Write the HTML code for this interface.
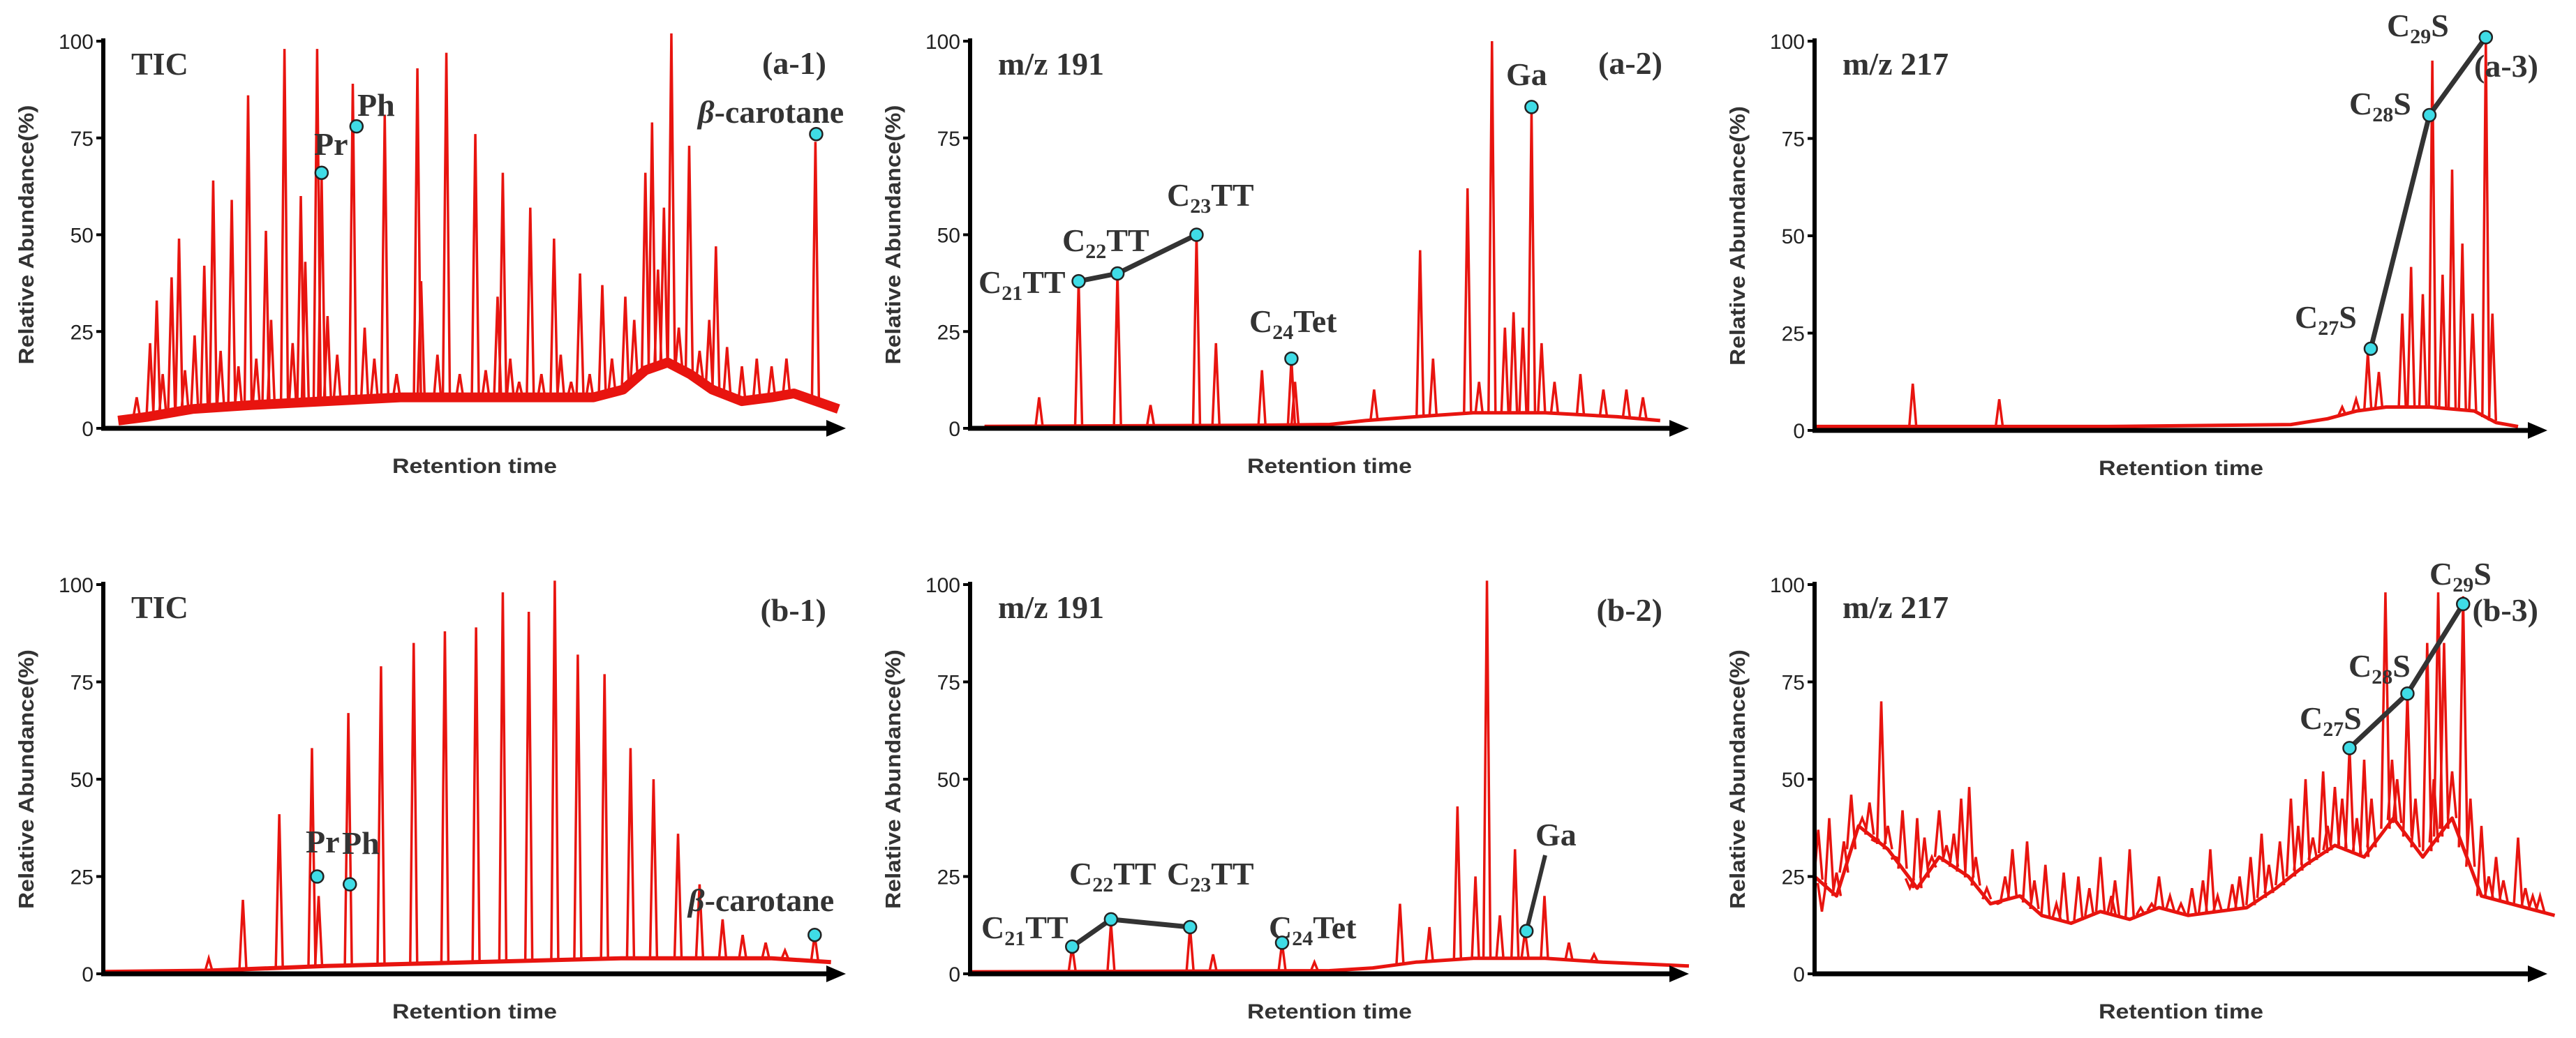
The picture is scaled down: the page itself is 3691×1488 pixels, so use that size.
<!DOCTYPE html>
<html><head><meta charset="utf-8">
<style>
html,body{margin:0;padding:0;background:#fff;}
svg{display:block;}
.tk{font-family:"Liberation Sans",sans-serif;font-size:30px;fill:#222;}
.yt{font-family:"Liberation Sans",sans-serif;font-size:31px;font-weight:bold;fill:#333;}
.xt{font-family:"Liberation Sans",sans-serif;font-size:30px;font-weight:bold;fill:#333;}
.lb{font-family:"Liberation Serif",serif;font-size:46px;font-weight:bold;fill:#333;}
.sb{font-size:30px;}
</style></head>
<body>
<svg id="fig" width="3691" height="1488" viewBox="0 0 3691 1488" xmlns="http://www.w3.org/2000/svg"></svg>
<script>
// ---- data (x in % of retention window, y in relative abundance %) ----
const yTicks = [0, 25, 50, 75, 100];
// a-1 TIC
const a1BaseX = [2, 6, 12, 20, 30, 40, 50, 60, 66, 70, 73, 76, 79, 82, 86, 90, 93, 96, 99];
const a1BaseY = [2, 3, 5, 6, 7, 8, 8, 8, 8, 10, 15, 17, 14, 10, 7, 8, 9, 7, 5];
const a1PeakX = [4.5,6.3,7.2,8.0,9.2,10.2,11.0,12.3,13.6,14.8,15.8,17.3,18.2,19.5,20.6,21.9,22.6,24.4,25.5,26.6,27.2,28.8,29.4,30.2,31.5,33.6,35.2,36.5,37.9,39.5,42.3,42.8,45.0,46.2,48.0,50.1,51.5,53.1,53.8,54.8,56.0,57.5,59.0,60.7,61.6,63.0,64.2,65.5,67.2,68.5,70.3,71.5,73.0,73.9,74.7,75.5,76.5,77.5,78.9,80.3,81.6,82.5,84.0,86.0,88.0,90.0,92.0,95.9];
const a1PeakY = [8,22,33,14,39,49,15,24,42,64,20,59,16,86,18,51,28,98,22,60,43,98,65,29,19,89,26,18,81,14,93,38,19,97,14,76,15,34,66,18,12,57,14,49,19,12,40,14,37,18,34,28,66,79,41,57,102,26,73,20,28,47,21,16,18,16,18,74];
// a-2 m/z 191
const a2BaseX = [2, 40, 50, 55, 62, 70, 80, 90, 96];
const a2BaseY = [0.5, 0.8, 1, 2, 3, 4, 4, 3, 2];
const a2PeakX = [9.6,15.1,20.5,25.1,31.5,34.2,40.6,44.7,45.2,56.2,62.6,64.4,69.2,70.8,72.6,74.4,75.6,76.9,78.1,79.5,81.3,84.9,88.1,91.3,93.6];
const a2PeakY = [8,38,40,6,50,22,15,18,12,10,46,18,62,12,100,26,30,26,82,22,12,14,10,10,8];
// a-3 m/z 217
const a3BaseX = [0, 40, 65, 70, 74, 78, 84, 90, 93, 96];
const a3BaseY = [1, 1, 1.5, 3, 5, 6, 6, 5, 2, 1];
const a3PeakX = [13.4,25.2,72.0,73.9,75.5,77.0,80.2,81.4,83.0,84.3,85.7,87.0,88.4,89.8,91.6,92.5];
const a3PeakY = [12,8,6,8,20,15,30,42,35,95,40,67,48,30,100,30];
// b-1 TIC
const b1BaseX = [0, 14, 30, 50, 70, 90, 98];
const b1BaseY = [0.5, 0.8, 2, 3, 4, 4, 3];
const b1PeakX = [14.2,18.8,23.7,28.1,29.0,33.0,37.4,41.8,46.0,50.2,53.8,57.3,60.8,63.9,67.5,71.0,74.1,77.4,80.3,83.4,86.1,89.2,91.8,95.8];
const b1PeakY = [4,19,41,58,20,67,79,85,88,89,98,93,101,82,77,58,50,36,23,14,10,8,6,10];
// b-2 m/z 191
const b2BaseX = [0, 50, 56, 62, 70, 80, 88, 100];
const b2BaseY = [0.5, 0.8, 1.5, 3, 4, 4, 3, 2];
const b2PeakX = [14.2,19.6,30.6,33.8,43.4,47.9,59.8,63.9,67.8,70.3,71.9,73.7,75.8,77.2,79.9,83.3,86.8];
const b2PeakY = [7,13,12,5,8,3,18,12,43,25,101,15,32,11,20,8,5];
// b-3 m/z 217
const b3BaseX = [0,3,6,10,14,17,21,24,28,31,35,39,43,47,51,55,59,63,67,71,75,79,83,87,91,95,101];
const b3BaseY = [25,20,38,32,22,30,25,18,20,15,13,16,14,17,15,16,17,22,28,33,30,40,30,40,20,18,15];
const b3PeakX = [0.5,1,2,3,4,5,6.5,7.5,8.3,9.1,10,11,12,13,14,15,16,17,18,19,20,21.1,22,23.5,25,26,27,28,29,30,31.5,33,34,36,37.5,39,40.5,41,43,44.5,46,47,48.5,50,51.5,53,54,55,57,58,59.5,61,62,63.5,65,66,67,68,69.4,70,71,72,73.0,74,75,76,77.9,78.8,79.5,80.9,82,83.6,84.5,85.1,85.9,87,88.5,89.5,91,92,93,94,96.0,97,98,99];
const b3PeakY = [37,16,40,26,34,46,40,44,34,70,38,30,42,22,40,35,30,42,33,36,45,48,30,22,18,25,32,20,34,24,28,18,26,25,22,30,20,24,32,17,18,25,20,18,22,24,32,20,23,25,30,36,28,34,45,38,50,35,52,38,48,45,58,40,55,45,98,55,50,72,45,85,50,98,85,52,97,45,38,25,30,24,35,22,20,20];

// ---- layout (pixels) ----
const svg = document.getElementById('fig');
const NS = 'http://www.w3.org/2000/svg';
function mk(tag, attrs, parent){
  const e = document.createElementNS(NS, tag);
  for (const k in attrs) e.setAttribute(k, attrs[k]);
  (parent||svg).appendChild(e);
  return e;
}
const panels = [
  {id:'a-1', x0:148, x1:1212, y0:614, y100:59, bx:a1BaseX, by:a1BaseY, px:a1PeakX, py:a1PeakY, title:'TIC', bw:14, pw:5},
  {id:'a-2', x0:1390, x1:2420, y0:614, y100:59, bx:a2BaseX, by:a2BaseY, px:a2PeakX, py:a2PeakY, title:'m/z 191', bw:5, pw:5},
  {id:'a-3', x0:2600, x1:3650, y0:617, y100:59, bx:a3BaseX, by:a3BaseY, px:a3PeakX, py:a3PeakY, title:'m/z 217', bw:5, pw:5},
  {id:'b-1', x0:148, x1:1212, y0:1396, y100:838, bx:b1BaseX, by:b1BaseY, px:b1PeakX, py:b1PeakY, title:'TIC', bw:6, pw:5},
  {id:'b-2', x0:1390, x1:2420, y0:1396, y100:838, bx:b2BaseX, by:b2BaseY, px:b2PeakX, py:b2PeakY, title:'m/z 191', bw:5, pw:5},
  {id:'b-3', x0:2600, x1:3650, y0:1396, y100:838, bx:b3BaseX, by:b3BaseY, px:b3PeakX, py:b3PeakY, title:'m/z 217', bw:5, pw:6}
];
function interp(xs, ys, x){
  if (x <= xs[0]) return ys[0];
  for (let i=1;i<xs.length;i++) if (x <= xs[i]) { const t=(x-xs[i-1])/(xs[i]-xs[i-1]); return ys[i-1]+t*(ys[i]-ys[i-1]); }
  return ys[ys.length-1];
}
panels.forEach(p => {
  const g = mk('g', {});
  
  
  const X = v => p.x0 + (p.x1 - p.x0) * v / 100;
  const Y = v => p.y0 - (p.y0 - p.y100) * v / 100;
  let d = '';
  p.bx.forEach((v,i) => { d += (i?'L':'M') + X(v).toFixed(1) + ' ' + Y(p.by[i]).toFixed(1) + ' '; });
  const bl = mk('path', {d:d, fill:'none', stroke:'#e8140f', 'stroke-width':p.bw, 'stroke-linejoin':'round'}, g);
  
  
  p.px.forEach((v,i) => {
    const b = interp(p.bx, p.by, v);
    const pk = mk('path', {d:`M${X(v)-p.pw} ${Y(b)} L${X(v)} ${Y(p.py[i])} L${X(v)+p.pw} ${Y(b)}`, fill:'none', stroke:'#e8140f', 'stroke-width':3.5}, g);
    
    
  });
  const ya = mk('line', {x1:p.x0, y1:p.y100-4, x2:p.x0, y2:p.y0+3, stroke:'#000', 'stroke-width':6}, g);
  
  
  const xa = mk('line', {x1:p.x0-3, y1:p.y0, x2:p.x1-20, y2:p.y0, stroke:'#000', 'stroke-width':7}, g);
  
  
  const ar = mk('path', {d:`M${p.x1} ${p.y0} L${p.x1-28} ${p.y0-12} L${p.x1-28} ${p.y0+12} Z`, fill:'#000'}, g);
  
  
  yTicks.forEach(t => {
    const tl = mk('line', {x1:p.x0-10, y1:Y(t), x2:p.x0, y2:Y(t), stroke:'#000', 'stroke-width':4}, g);
    
    
    const tx = mk('text', {x:p.x0-14, y:Y(t)+11, 'text-anchor':'end', class:'tk'}, g);
    tx.textContent = t;
    
    
  });
  const yt = mk('text', {transform:`translate(${p.x0-100},${(p.y0+p.y100)/2}) rotate(-90)`, 'text-anchor':'middle', class:'yt', textLength:372, lengthAdjust:'spacingAndGlyphs'}, g);
  yt.textContent = 'Relative Abundance(%)';
  
  
  const xt = mk('text', {x:(p.x0+p.x1)/2, y:p.y0+64, 'text-anchor':'middle', class:'xt', textLength:236, lengthAdjust:'spacingAndGlyphs'}, g);
  xt.textContent = 'Retention time';
  
  
  const tt = mk('text', {x:p.x0+40, y:p.y100+48, class:'lb'}, g);
  tt.textContent = p.title;
  
  
});
</script>
<svg style="position:absolute;left:0;top:0" width="3691" height="1488" viewBox="0 0 3691 1488">
<g font-family="Liberation Serif, serif" font-weight="bold" font-size="46" fill="#333">
 <text x="1184" y="106" text-anchor="end">(a-1)</text>
 <text x="2382" y="106" text-anchor="end">(a-2)</text>
 <text x="3637" y="110" text-anchor="end">(a-3)</text>
 <text x="1184" y="890" text-anchor="end">(b-1)</text>
 <text x="2382" y="890" text-anchor="end">(b-2)</text>
 <text x="3637" y="890" text-anchor="end">(b-3)</text>

 <text x="450" y="222">Pr</text>
 <text x="512" y="166">Ph</text>
 <text x="1000" y="176"><tspan font-style="italic">β</tspan>-carotane</text>
 <text x="1402" y="420">C<tspan class="sb" dy="10">21</tspan><tspan dy="-10">TT</tspan></text>
 <text x="1522" y="360">C<tspan class="sb" dy="10">22</tspan><tspan dy="-10">TT</tspan></text>
 <text x="1672" y="295">C<tspan class="sb" dy="10">23</tspan><tspan dy="-10">TT</tspan></text>
 <text x="1790" y="476">C<tspan class="sb" dy="10">24</tspan><tspan dy="-10">Tet</tspan></text>
 <text x="2158" y="122">Ga</text>
 <text x="3288" y="470">C<tspan class="sb" dy="10">27</tspan><tspan dy="-10">S</tspan></text>
 <text x="3366" y="164">C<tspan class="sb" dy="10">28</tspan><tspan dy="-10">S</tspan></text>
 <text x="3420" y="52">C<tspan class="sb" dy="10">29</tspan><tspan dy="-10">S</tspan></text>

 <text x="438" y="1222">Pr</text>
 <text x="490" y="1224">Ph</text>
 <text x="986" y="1306"><tspan font-style="italic">β</tspan>-carotane</text>
 <text x="1406" y="1345">C<tspan class="sb" dy="10">21</tspan><tspan dy="-10">TT</tspan></text>
 <text x="1532" y="1268">C<tspan class="sb" dy="10">22</tspan><tspan dy="-10">TT</tspan></text>
 <text x="1672" y="1268">C<tspan class="sb" dy="10">23</tspan><tspan dy="-10">TT</tspan></text>
 <text x="1818" y="1345">C<tspan class="sb" dy="10">24</tspan><tspan dy="-10">Tet</tspan></text>
 <text x="2200" y="1212">Ga</text>
 <text x="3295" y="1045">C<tspan class="sb" dy="10">27</tspan><tspan dy="-10">S</tspan></text>
 <text x="3365" y="970">C<tspan class="sb" dy="10">28</tspan><tspan dy="-10">S</tspan></text>
 <text x="3481" y="838">C<tspan class="sb" dy="10">29</tspan><tspan dy="-10">S</tspan></text>
</g>
<g id="marks"></g>
</svg>
<script>
// markers: x% and y% per panel
const markX = {
  a1:[29.4,34.1,96.0], a2:[15.1,20.5,31.5,44.7,78.1], a3:[75.9,83.9,91.6],
  b1:[28.8,33.2,95.8], b2:[14.2,19.6,30.6,43.4,77.4], b3:[73.0,80.9,88.5]
};
const markY = {
  a1:[66,78,76], a2:[38,40,50,18,83], a3:[21,81,101],
  b1:[25,23,10], b2:[7,14,12,8,11], b3:[58,72,95]
};
const geom = {
  a1:[148,1212,614,59], a2:[1390,2420,614,59], a3:[2600,3650,617,59],
  b1:[148,1212,1396,838], b2:[1390,2420,1396,838], b3:[2600,3650,1396,838]
};
const lineSets = {a2:[0,1,2], a3:[0,1,2], b2:[0,1,2], b3:[0,1,2]};
const mg = document.getElementById('marks');
const NS2 = 'http://www.w3.org/2000/svg';
Object.keys(markX).forEach(k => {
  const [x0,x1,y0,y100] = geom[k];
  const X = v => x0 + (x1-x0)*v/100, Y = v => y0 - (y0-y100)*v/100;
  if (lineSets[k]) {
    const pl = document.createElementNS(NS2,'polyline');
    pl.setAttribute('points', lineSets[k].map(i => X(markX[k][i])+','+Y(markY[k][i])).join(' '));
    pl.setAttribute('fill','none'); pl.setAttribute('stroke','#333'); pl.setAttribute('stroke-width','7');
    
    
    mg.appendChild(pl);
  }
  if (k === 'b2') {
    const ln = document.createElementNS(NS2,'line');
    ln.setAttribute('x1', X(markX.b2[4])); ln.setAttribute('y1', Y(markY.b2[4]));
    ln.setAttribute('x2', 2214); ln.setAttribute('y2', 1226);
    ln.setAttribute('stroke','#333'); ln.setAttribute('stroke-width','6');
    
    
    mg.appendChild(ln);
  }
  markX[k].forEach((v,i) => {
    const c = document.createElementNS(NS2,'circle');
    c.setAttribute('cx', X(v)); c.setAttribute('cy', Y(markY[k][i])); c.setAttribute('r', 9);
    c.setAttribute('fill','#3fdce6'); c.setAttribute('stroke','#222'); c.setAttribute('stroke-width','2.5');
    
    
    mg.appendChild(c);
  });
});
</script>
</body></html>
